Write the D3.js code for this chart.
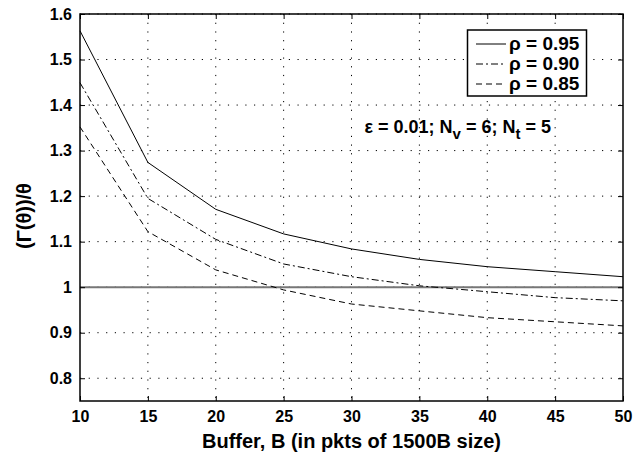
<!DOCTYPE html>
<html>
<head>
<meta charset="utf-8">
<script src="https://cdn.jsdelivr.net/npm/d3@7"></script>
<style>
  body { margin: 0; background: #fff; }
  svg { display: block; font-family: "Liberation Sans", Arial, sans-serif; }
</style>
</head>
<body>
<svg id="chart" width="644" height="456"></svg>
<script>
const buffer = [10, 15, 20, 25, 30, 35, 40, 45, 50];
const rho95 = [1.563, 1.274, 1.171, 1.117, 1.084, 1.061, 1.045, 1.034, 1.023];
const rho90 = [1.449, 1.195, 1.105, 1.051, 1.023, 1.003, 0.990, 0.977, 0.970];
const rho85 = [1.352, 1.122, 1.038, 0.994, 0.963, 0.948, 0.933, 0.924, 0.915];
const xTicks = [10, 15, 20, 25, 30, 35, 40, 45, 50];
const yTicks = [0.8, 0.9, 1, 1.1, 1.2, 1.3, 1.4, 1.5, 1.6];
const seriesNames = ['ρ = 0.95', 'ρ = 0.90', 'ρ = 0.85'];

const width = 644;
const height = 456;
const margin = { left: 80, right: 21, top: 14, bottom: 55 };

const svg = d3.select('#chart');

const xScale = d3.scaleLinear()
  .domain([10, 50])
  .range([margin.left, width - margin.right]);

const yScale = d3.scaleLinear()
  .domain([0.75, 1.6])
  .range([height - margin.bottom, margin.top]);

const plotW = width - margin.left - margin.right;
const plotH = height - margin.top - margin.bottom;

// dotted grid
const grid = svg.append('g')
  .attr('stroke', '#000')
  .attr('stroke-width', 1)
  .attr('stroke-dasharray', '1.2,7.5');

grid.selectAll('.gx')
  .data(xTicks.slice(1, -1))
  .enter()
  .append('line')
  .attr('x1', d => xScale(d))
  .attr('x2', d => xScale(d))
  .attr('y1', margin.top)
  .attr('y2', height - margin.bottom);

grid.selectAll('.gy')
  .data(yTicks)
  .enter()
  .append('line')
  .attr('x1', margin.left)
  .attr('x2', width - margin.right)
  .attr('y1', d => yScale(d))
  .attr('y2', d => yScale(d));

// reference line at 1
svg.append('line')
  .attr('x1', margin.left)
  .attr('x2', width - margin.right)
  .attr('y1', yScale(1))
  .attr('y2', yScale(1))
  .attr('stroke', '#777')
  .attr('stroke-width', 2);

// axes, MATLAB style ticks pointing inward
const fmt = d => String(+d.toFixed(1));

const xAxis = d3.axisBottom(xScale).tickValues(xTicks).tickSize(-5).tickPadding(10).tickFormat(d3.format('d'));
const xAxisTop = d3.axisTop(xScale).tickValues(xTicks).tickSize(-5).tickFormat('');
const yAxis = d3.axisLeft(yScale).tickValues(yTicks).tickSize(-5).tickPadding(8).tickFormat(fmt);
const yAxisRight = d3.axisRight(yScale).tickValues(yTicks).tickSize(-5).tickFormat('');

svg.append('g')
  .attr('transform', `translate(0, ${height - margin.bottom})`)
  .call(xAxis);
svg.append('g')
  .attr('transform', `translate(0, ${margin.top})`)
  .call(xAxisTop);
svg.append('g')
  .attr('transform', `translate(${margin.left}, 0)`)
  .call(yAxis);
svg.append('g')
  .attr('transform', `translate(${width - margin.right}, 0)`)
  .call(yAxisRight);

svg.selectAll('.domain').remove();
svg.selectAll('.tick line').attr('stroke', '#000').attr('stroke-width', 1);
svg.selectAll('.tick text')
  .attr('fill', '#000')
  .style('font-size', '16px')
  .style('font-weight', 'bold')
  .style('font-family', '"Liberation Sans", Arial, sans-serif');

svg.append('rect')
  .attr('x', margin.left)
  .attr('y', margin.top)
  .attr('width', plotW)
  .attr('height', plotH)
  .attr('fill', 'none')
  .attr('stroke', '#000')
  .attr('stroke-width', 1.5);

// series lines
const dashes = [null, '7,3,2,3', '6,4'];
const line = d3.line()
  .x((d, i) => xScale(buffer[i]))
  .y(d => yScale(d));

[rho95, rho90, rho85].forEach((vals, i) => {
  svg.append('path')
    .datum(vals)
    .attr('d', line)
    .attr('fill', 'none')
    .attr('stroke', '#000')
    .attr('stroke-width', 1)
    .attr('stroke-dasharray', dashes[i]);
});

// legend
const legend = svg.append('g');
legend.append('rect')
  .attr('x', 467.5)
  .attr('y', 30)
  .attr('width', 119)
  .attr('height', 66)
  .attr('fill', '#fff')
  .attr('stroke', '#000')
  .attr('stroke-width', 1.5);

seriesNames.forEach((name, i) => {
  const yy = 50 + i * 20;
  legend.append('line')
    .attr('x1', 476)
    .attr('x2', 506)
    .attr('y1', yy - 6)
    .attr('y2', yy - 6)
    .attr('stroke', '#000')
    .attr('stroke-width', 1)
    .attr('stroke-dasharray', dashes[i]);
  legend.append('text')
    .attr('x', 509)
    .attr('y', yy)
    .style('font-size', '19px')
    .style('font-weight', 'bold')
    .text(name);
});

// annotation
const note = svg.append('text')
  .attr('x', 551)
  .attr('y', 133)
  .attr('text-anchor', 'end')
  .style('font-size', '18px')
  .style('font-weight', 'bold');
note.append('tspan').text('ε = 0.01; N');
note.append('tspan').attr('dy', 6).style('font-size', '15px').text('v');
note.append('tspan').attr('dy', -6).text(' = 6; N');
note.append('tspan').attr('dy', 6).style('font-size', '15px').text('t');
note.append('tspan').attr('dy', -6).text(' = 5');

// axis titles
svg.append('text')
  .attr('x', (margin.left + width - margin.right) / 2)
  .attr('y', 448)
  .attr('text-anchor', 'middle')
  .style('font-size', '20px')
  .style('font-weight', 'bold')
  .text('Buffer, B (in pkts of 1500B size)');

svg.append('text')
  .attr('transform', 'rotate(-90)')
  .attr('x', -216)
  .attr('y', 31)
  .attr('text-anchor', 'middle')
  .style('font-size', '20px')
  .style('font-weight', 'bold')
  .text('(Γ(θ))/θ');
</script>
</body>
</html>
